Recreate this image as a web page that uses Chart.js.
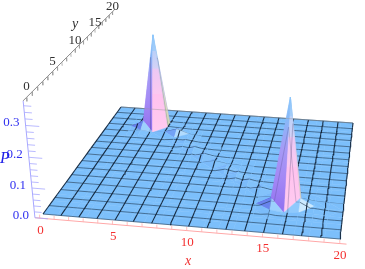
<!DOCTYPE html>
<html><head><meta charset="utf-8">
<style>html,body{margin:0;padding:0;background:#fff}canvas{display:block}</style>
<script src="https://cdn.jsdelivr.net/npm/chart.js@4/dist/chart.umd.min.js"></script>
</head><body><canvas id="c" width="365" height="269"></canvas>
<script>
const xTicks=[0,5,10,15,20];
const yTicks=[0,5,10,15,20];
const pTicks=[0.0,0.1,0.2,0.3];
// mesh lines drawn over the surface
const xMesh=[0,1.25,2.5,3.75,5,6.25,7.5,8.75,10,11.25,12.5,13.75,15,16.25,17.5,18.75,20];
const yMesh=[0,1.25,2.5,3.75,5,6.25,7.5,8.75,10,11.25,12.5,13.75,15,16.25,17.5,18.75,20];
// probability P on the integer lattice; one row per y, first row y=0, columns x=0..20
const P0 =[0,0,0,0,0,0,0,0,0,0,0,0,0,0,0,0,0,0,0,0,0];
const P1 =[0,0,0,0,0,0,0,0,0,0,0,0,0,0,0,0,0,0,0,0,0];
const P2 =[0,0,0,0,0,0,0,0,0,0,0,0,0,0,0,0,0,0,0,0,0];
const P3 =[0,0,0,0,0,0,0,0,0,0,0,0,0,0,0,0.006,0,0.003,0.004,0,0];
const P4 =[0,0,0,0,0,0,0,0,0,0,0,0,0,0,0,0.024,0.36,0.03,0.006,0.002,0];
const P5 =[0,0,0,0,0,0,0,0,0,0,0,0,0,0,0,0.006,0.004,0.008,0.002,0,0];
const P6 =[0,0,0,0,0,0,0,0,0,0,0,0,0,0.002,0.011,0.002,0,0,0,0,0];
const P7 =[0,0,0,0,0,0,0,0,0,0,0,0,0.002,0.011,0.002,0,0,0,0,0,0];
const P8 =[0,0,0,0,0,0,0,0,0,0,0,0.002,0.012,0.002,0,0,0,0,0,0,0];
const P9 =[0,0,0,0,0,0,0,0,0,0,0,0.011,0.002,0,0,0,0,0,0,0,0];
const P10=[0,0,0,0,0,0,0,0,0,0,0.01,0.002,0,0,0,0,0,0,0,0,0];
const P11=[0,0,0,0,0,0,0,0,0,0.011,0.002,0,0,0,0,0,0,0,0,0,0];
const P12=[0,0,0,0,0,0,0,0,0.012,0.002,0,0,0,0,0,0,0,0,0,0,0];
const P13=[0,0,0,0,0,0,0,0.008,0.002,0,0,0,0,0,0,0,0,0,0,0,0];
const P14=[0,0,0,0,0,0,0.005,0.006,0,0,0,0,0,0,0,0,0,0,0,0,0];
const P15=[0,0,0,0.006,0,0.006,0.02,0.004,0,0,0,0,0,0,0,0,0,0,0,0,0];
const P16=[0,0,0,0.024,0.353,0.005,0.003,0,0,0,0,0,0,0,0,0,0,0,0,0,0];
const P17=[0,0,0,0.002,0.002,0.002,0,0,0,0,0,0,0,0,0,0,0,0,0,0,0];
const P18=[0,0,0,0,0,0,0,0,0,0,0,0,0,0,0,0,0,0,0,0,0];
const P19=[0,0,0,0,0,0,0,0,0,0,0,0,0,0,0,0,0,0,0,0,0];
const P20=[0,0,0,0,0,0,0,0,0,0,0,0,0,0,0,0,0,0,0,0,0];
const surface=[P0,P1,P2,P3,P4,P5,P6,P7,P8,P9,P10,P11,P12,P13,P14,P15,P16,P17,P18,P19,P20];

// camera calibration: screen positions of the floor corners and the vertical vanishing point
const A=[43,214],B=[340,239],C=[353,123],D=[121,107],V=[205,1900],K=-0.172;
const AX0=-0.35,AY0=-0.6,AX1=20.45,AY1=20.6,ZTOP=0.375;
const den=(B[0]-C[0])*(D[1]-C[1])-(D[0]-C[0])*(B[1]-C[1]);
const sx=A[0]-B[0]+C[0]-D[0],sy=A[1]-B[1]+C[1]-D[1];
const g=(sx*(D[1]-C[1])-(D[0]-C[0])*sy)/den;
const h=((B[0]-C[0])*sy-sx*(B[1]-C[1]))/den;
const a=B[0]-A[0]+g*B[0],b=D[0]-A[0]+h*D[0],d=B[1]-A[1]+g*B[1],e=D[1]-A[1]+h*D[1];
function proj(x,y,z){const u=x/20,v=y/20,w=g*u+h*v+1+K*z;
 return {x:(a*u+b*v+A[0]+K*z*V[0])/w,y:(d*u+e*v+A[1]+K*z*V[1])/w};}

const cv=document.getElementById('c');const ctx=cv.getContext('2d');
const sets=[];
function poly(pts,col){sets.push({data:[...pts,pts[0]],showLine:true,fill:'shape',backgroundColor:col,borderColor:col,borderWidth:0.5,pointRadius:0,tension:0,clip:false});}
function line(pts,col,w){sets.push({data:pts,showLine:true,fill:false,borderColor:col,borderWidth:w,pointRadius:0,tension:0,clip:false});}

function grad(top,base,stops){const gr=ctx.createLinearGradient(0,top,0,base);stops.forEach(s=>gr.addColorStop(s[0],s[1]));return gr;}
const PINK=[[0,'#8cc6fb'],[.16,'#a4cdf9'],[.17,'#bcd0f8'],[.34,'#d4d2f6'],[.35,'#ecc8f4'],[.6,'#fbc8f0'],[.61,'#ffc2ee'],[1,'#ffcbf0']];
const PURPLE=[[0,'#8cc6fb'],[.2,'#88b8f8'],[.45,'#a69af6'],[.7,'#a488f5'],[1,'#9070f0']];
const BACK=[[0,'#8cc6fb'],[.4,'#c8d8e8'],[.8,'#d8dcc0'],[1,'#c8d8b0']];
const BASE='#7cbffb';
function mix(c1,c2,t){const p=s=>[1,3,5].map(i=>parseInt(s.substr(i,2),16));const q=p(c1),r=p(c2);return 'rgb('+q.map((v,i)=>Math.round(v+(r[i]-v)*t)).join(',')+')';}

const Z=(i,j)=>surface[j][i];
const N=(i,j)=>({i,j,z:Z(i,j),p:proj(i,j,Z(i,j))});
const cam=[13,-30];
const cells=[];
for(let j=0;j<20;j++)for(let i=0;i<20;i++){
 const z=[Z(i,j),Z(i+1,j),Z(i+1,j+1),Z(i,j+1)];
 let main=(z[0]+z[2])<(z[1]+z[3]);
 if(z[0]>0.1)main=true;
 cells.push({i,j,z,main,flat:Math.max(...z)===0,tall:Math.max(...z)>0.1,d:Math.hypot(i+.5-cam[0],j+.5-cam[1])});}
cells.sort((p,q)=>q.d-p.d);

function triColor(t){
 const top=t.reduce((m,n)=>n.z>m.z?n:m,t[0]);
 if(top.z>0.1){
  const o=t.filter(n=>n!==top);
  const mx=(o[0].i+o[1].i)/2-top.i,my=(o[0].j+o[1].j)/2-top.j;
  const base=Math.max(o[0].p.y,o[1].p.y);
  if(mx>0&&my>0&&mx>=my)return grad(top.p.y,base,BACK);
  if(mx>0&&my<=0)return grad(top.p.y,base,PINK);
  return grad(top.p.y,base,PURPLE);
 }
 const ux=t[1].i-t[0].i,uy=t[1].j-t[0].j,uz=t[1].z-t[0].z;
 const vx=t[2].i-t[0].i,vy=t[2].j-t[0].j,vz=t[2].z-t[0].z;
 let nx=uy*vz-uz*vy,ny=uz*vx-ux*vz,nz=ux*vy-uy*vx;if(nz<0){nx=-nx;ny=-ny;nz=-nz;}
 const soft=top.z<0.013?0.2:1;
 const s=Math.max(-1,Math.min(1,((nx-0.4*ny)/nz)*30*soft));
 return s>=0?mix(BASE,'#cdeaff',s):mix(BASE,'#5548e0',-s);
}
function fillCell(c){const {i,j}=c;
 const q00=N(i,j),q10=N(i+1,j),q11=N(i+1,j+1),q01=N(i,j+1);
 if(c.flat){poly([q00.p,q10.p,q11.p,q01.p],BASE);return;}
 const tris=c.main?[[q00,q10,q11],[q00,q11,q01]]:[[q00,q10,q01],[q10,q11,q01]];
 const dist=t=>Math.hypot(t.reduce((s,n)=>s+n.i,0)/3-cam[0],t.reduce((s,n)=>s+n.j,0)/3-cam[1]);
 tris.sort((p,q)=>dist(q)-dist(p));
 tris.forEach(t=>poly(t.map(n=>n.p),triColor(t)));
}
function zAt(c,fx,fy){const [z00,z10,z11,z01]=c.z;
 if(c.main)return fy<fx?z00+(z10-z00)*fx+(z11-z10)*fy:z00+(z11-z01)*fx+(z01-z00)*fy;
 return fx+fy<1?z00+(z10-z00)*fx+(z01-z00)*fy:z11+(z01-z11)*(1-fx)+(z10-z11)*(1-fy);
}
function cellOf(v){return Math.min(19,Math.floor(v));}
function meshCell(c){const {i,j}=c;
 const pale='rgba(50,50,100,0.26)';
 yMesh.forEach(ym=>{if(cellOf(ym)!==j)return;const fy=ym-j;
  const bx=c.main?fy:1-fy;
  line([0,bx,1].map(fx=>proj(i+fx,ym,zAt(c,fx,fy))),c.tall?pale:'rgba(24,44,66,0.66)',0.85);});
 xMesh.forEach(xm=>{if(cellOf(xm)!==i)return;const fx=xm-i;
  const by=c.main?fx:1-fx;
  line([0,by,1].map(fy=>proj(xm,j+fy,zAt(c,fx,fy))),c.tall?pale:'rgba(14,30,50,0.92)',1.1);});
}
const flat=cells.filter(c=>c.flat),bumpy=cells.filter(c=>!c.flat);
flat.forEach(fillCell);
flat.forEach(meshCell);
bumpy.forEach(c=>{fillCell(c);meshCell(c);});

// outer edge highlight along the far side
line(xMesh.map(x=>proj(x,20,0)),'rgba(150,150,150,0.6)',0.7);

// axes
const xMinor=[],yMinor=[],pMinor=[];
for(let t=0;t<=20;t++){const p=proj(t,AY0,0),r=proj(t,AY0,0.012);xMinor.push(p,r,{x:NaN,y:NaN});}
for(let t=0;t<=20;t++){const p=proj(AX0,t,ZTOP),r=proj(AX0,t,ZTOP-0.012);yMinor.push(p,r,{x:NaN,y:NaN});}
for(let t=0;t<=18;t++){const z=t*0.02,L=t%5===0?0.9:0.5;const p=proj(AX0,AY0,z),r=proj(AX0+L,AY0,z);pMinor.push(p,r,{x:NaN,y:NaN});}
line([proj(AX0,AY0,0),proj(AX1,AY0,0)],'#ffa8a8',1);
line(xMinor,'#ffb0b0',0.8);
line([proj(AX0,AY0,0),proj(AX0,AY0,ZTOP)],'#a8a8ff',1);
line(pMinor,'#a8a8ff',0.8);
line([proj(AX0,AY0,ZTOP),proj(AX0,AY1,ZTOP)],'#8c8c8c',1);
line(yMinor,'#a0a0a0',0.8);

const labels={id:'labels',afterDraw(ch){const c=ch.ctx;c.save();c.textBaseline='middle';c.textAlign='center';
 const num='13px "Liberation Serif"';
 c.font=num;c.fillStyle='#f43030';
 xTicks.forEach(t=>{const p=proj(t,AY0,0);c.fillText(String(t),p.x+0.5,p.y+12);});
 c.fillStyle='#303030';
 yTicks.forEach(t=>{const p=proj(AX0,t,ZTOP);c.fillText(String(t),p.x,p.y-11+t*0.3);});
 c.fillStyle='#3030f0';c.textAlign='right';
 pTicks.forEach(t=>{const p=proj(AX0,AY0,t);c.fillText(t.toFixed(1),p.x-6,p.y-2.5);});
 c.textAlign='center';
 c.font='italic 16px "Liberation Serif"';c.fillStyle='#2020e8';c.fillText('P',5,159);
 c.font='italic 14px "Liberation Serif"';c.fillStyle='#f03030';c.fillText('x',188,261);
 c.fillStyle='#303030';c.fillText('y',75,24);
 c.restore();}};

new Chart(cv,{type:'scatter',data:{datasets:sets.slice().reverse()},plugins:[labels],options:{
 responsive:false,animation:false,events:[],layout:{padding:0},
 plugins:{legend:{display:false},tooltip:{enabled:false},title:{display:false}},
 scales:{x:{type:'linear',min:0,max:365,display:false},y:{type:'linear',min:0,max:269,reverse:true,display:false}}
}});
</script></body></html>
